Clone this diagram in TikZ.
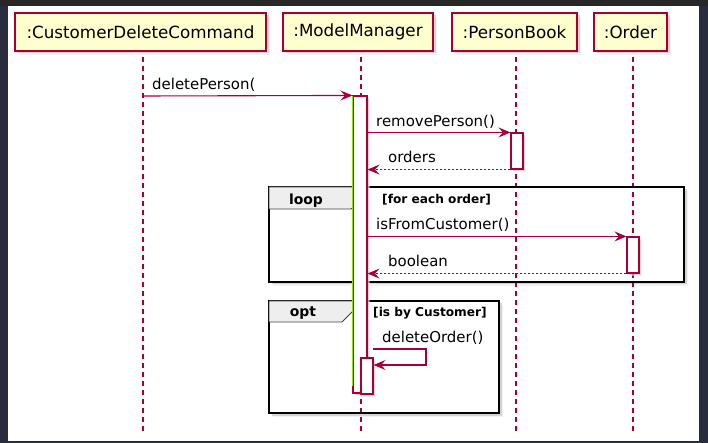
\documentclass[tikz,border=0pt]{standalone}
\usepackage{fontspec}
\setmainfont{DejaVu Sans}
\usetikzlibrary{arrows.meta,shadows}
\definecolor{crim}{HTML}{A80036}
\definecolor{pfill}{HTML}{FEFECE}
\definecolor{topband}{HTML}{272727}
\definecolor{sideband}{HTML}{282C3E}
\definecolor{actgreen}{HTML}{8EE600}
\definecolor{tabgray}{HTML}{EEEEEE}
\tikzset{
  x=1bp, y=-1bp,
  softshadow/.style={
    drop shadow={shadow xshift=4bp, shadow yshift=-4bp, fill=black!10, draw=none},
    drop shadow={shadow xshift=2.5bp, shadow yshift=-2.5bp, fill=black!28, draw=none}},
  smallshadow/.style={
    drop shadow={shadow xshift=3bp, shadow yshift=-3bp, fill=black!10, draw=none},
    drop shadow={shadow xshift=2bp, shadow yshift=-2bp, fill=black!25, draw=none}},
  participant/.style={draw=crim, line width=1.6bp, fill=pfill, rectangle, inner sep=0pt,
    minimum height=38bp, font=\fontsize{16.8}{18}\selectfont, softshadow},
  lifeline/.style={draw=crim, line width=1.1bp, dash pattern=on 5bp off 4bp},
  actbox/.style={draw=crim, line width=1.1bp, fill=white, rectangle, inner sep=0pt, smallshadow},
  msg/.style={draw=crim, line width=1.1bp, -{Stealth[length=12bp,width=10bp,inset=4.5bp]}},
  ret/.style={msg, dash pattern=on 2bp off 2bp},
  msglabel/.style={anchor=base west, inner sep=0pt, font=\fontsize{15}{17}\selectfont},
  frameback/.style={fill=white, softshadow},
  frameline/.style={draw=black, line width=2bp},
  tabshape/.style={draw=black!75, line width=0.8bp, fill=tabgray},
  tablabel/.style={anchor=base, inner sep=0pt, font=\fontsize{14}{16}\selectfont\bfseries},
  guardlabel/.style={anchor=base west, inner sep=0pt, font=\fontsize{12.2}{14}\selectfont\bfseries},
}
\begin{document}
\begin{tikzpicture}
% background and margins
\fill[sideband] (0,0) rectangle (708,443);
\fill[topband] (0,0) rectangle (708,6);
\fill[white] (8,6) rectangle (699,441);
\useasboundingbox (0,0) rectangle (708,443);

% frame backgrounds with shadow
\path[frameback] (269,187) rectangle (684,282);
\path[frameback] (269,301) rectangle (499,413);

% participants
\node[participant, minimum width=251bp] (cdc) at (140.5,32) {:CustomerDeleteCommand};
\node[participant, minimum width=150bp] (mm) at (358,32) {:ModelManager};
\node[participant, minimum width=125bp] (pb) at (514.5,32) {:PersonBook};
\node[participant, minimum width=73bp] (ord) at (630.5,32) {:Order};

% lifelines
\coordinate (cdcTop) at (143,57); \coordinate (cdcBot) at (143,434);
\coordinate (mmTop) at (361,57);  \coordinate (mmBot) at (361,434);
\coordinate (pbTop) at (516,57);  \coordinate (pbBot) at (516,434);
\coordinate (ordTop) at (633,57); \coordinate (ordBot) at (633,434);
\draw[lifeline] (cdcTop) -- (cdcBot);
\draw[lifeline] (mmTop) -- (mmBot);
\draw[lifeline] (pbTop) -- (pbBot);
\draw[lifeline] (ordTop) -- (ordBot);

% loop frame
\draw[frameline] (269,187) rectangle (684,282);
\path[tabshape] (269,187) -- (363,187) -- (363,198) -- (351,209) -- (269,209) -- cycle;
\node[tablabel] (looplbl) at (306,205) {loop};
\node[guardlabel] (loopguard) at (382,204) {[for each order]};

% opt frame
\draw[frameline] (269,301) rectangle (499,413);
\path[tabshape] (269,301) -- (354,301) -- (354,310) -- (342,322) -- (269,322) -- cycle;
\node[tablabel] (optlbl) at (303,317) {opt};
\node[guardlabel] (optguard) at (373,317) {[is by Customer]};

% activations
\node[actbox, minimum width=14bp, minimum height=297bp] (mmact) at (360,244.5) {};
\draw[actgreen, line width=1.2bp] ([yshift=-0.5bp]mmact.north west) -- ([yshift=8bp]mmact.south west);
\node[actbox, minimum width=12bp, minimum height=36bp] (pbact) at (517,151) {};
\node[actbox, minimum width=12bp, minimum height=36bp] (ordact) at (633,255) {};
\node[actbox, minimum width=12bp, minimum height=36bp] (nestact) at (367,376) {};

% messages
\draw[msg] (cdcTop |- 0,96) coordinate (m1s) -- (mmact.north west) ;
\node[msglabel] (l1) at (152,90) {deletePerson(};

\draw[msg] (mmact.east |- pbact.north) -- (pbact.north west);
\node[msglabel] (l2) at (376,127) {removePerson()};

\draw[ret] (pbact.south west) -- (mmact.east |- pbact.south);
\node[msglabel] (l3) at (388,163) {orders};

\draw[msg] (mmact.east |- ordact.north) -- (ordact.north west);
\node[msglabel] (l4) at (376,230) {isFromCustomer()};

\draw[ret] (ordact.south west) -- (mmact.east |- ordact.south);
\node[msglabel] (l5) at (388,267) {boolean};

\coordinate (selfA) at (373,349);
\coordinate (selfB) at (426,349);
\coordinate (selfC) at (426,365);
\draw[msg] (selfA) -- (selfB) -- (selfC) -- (nestact.east |- selfC);
\node[msglabel] (l6) at (382,343) {deleteOrder()};
\end{tikzpicture}
\end{document}
